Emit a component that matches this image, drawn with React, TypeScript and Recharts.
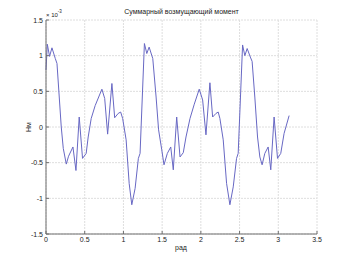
import { CartesianGrid, Line, LineChart, XAxis, YAxis } from 'recharts';

// angle, rad
const angleRad = [
  0.0, 0.017, 0.046, 0.077, 0.12, 0.142, 0.197, 0.223, 0.262, 0.291, 0.348, 0.387, 0.429, 0.472, 0.519, 0.545,
  0.584, 0.635, 0.722, 0.758, 0.796, 0.851, 0.887, 0.932, 0.964, 0.99, 1.035, 1.074, 1.108, 1.151, 1.193, 1.215,
  1.271, 1.302, 1.332, 1.379, 1.422, 1.454, 1.495, 1.524, 1.567, 1.611, 1.644, 1.688, 1.731, 1.773, 1.808, 1.86,
  1.915, 1.979, 2.023, 2.066, 2.117, 2.152, 2.195, 2.224, 2.246, 2.289, 2.332, 2.375, 2.418, 2.461, 2.482, 2.539,
  2.568, 2.598, 2.639, 2.662, 2.697, 2.732, 2.762, 2.791, 2.826, 2.869, 2.903, 2.946, 2.99, 3.032, 3.075, 3.14,
];

// torque, x 10^-3 Nm
const torque = [
  0.8, 1.16, 0.99, 1.11, 0.96, 0.89, 0.0, -0.3, -0.52, -0.41, -0.28, -0.61, 0.14, -0.44, -0.37, -0.14,
  0.12, 0.3, 0.53, 0.4, -0.1, 0.61, 0.13, 0.19, 0.21, 0.12, -0.18, -0.79, -1.09, -0.86, -0.44, -0.37,
  1.17, 1.03, 1.12, 0.96, 0.42, -0.04, -0.32, -0.53, -0.37, -0.28, -0.6, 0.14, -0.42, -0.36, -0.14, 0.12,
  0.32, 0.53, 0.38, -0.11, 0.62, 0.14, 0.19, 0.21, 0.12, -0.18, -0.79, -1.09, -0.84, -0.44, -0.37, 1.15,
  1.0, 1.1, 0.98, 0.92, 0.42, -0.14, -0.42, -0.53, -0.37, -0.28, -0.6, 0.14, -0.44, -0.37, -0.09, 0.16,
];

const xTicks = [0, 0.5, 1, 1.5, 2, 2.5, 3, 3.5];
const yTicks = [-1.5, -1, -0.5, 0, 0.5, 1, 1.5];

const data = angleRad.map((a, i) => ({ a, m: torque[i] }));

const AXIS = '#6e6e6e';
const LABEL = '#222';
const FONT = '"Liberation Sans", Arial, sans-serif';

const fmt = (v: number) => String(v);

function BottomTick({ x, y, payload }: any) {
  return (
    <g>
      <line x1={x} x2={x} y1={y} y2={y - 3} stroke={AXIS} />
      <text x={x} y={y + 8} textAnchor="middle" fontSize={7} fill={LABEL} fontFamily={FONT}>
        {fmt(payload.value)}
      </text>
    </g>
  );
}

function LeftTick({ x, y, payload }: any) {
  return (
    <g>
      <line x1={x} x2={x + 3} y1={y} y2={y} stroke={AXIS} />
      <text x={x - 3} y={y + 2.5} textAnchor="end" fontSize={7} fill={LABEL} fontFamily={FONT}>
        {fmt(payload.value)}
      </text>
    </g>
  );
}

function TopTick({ x, y }: any) {
  return <line x1={x} x2={x} y1={y} y2={y + 3} stroke={AXIS} />;
}

function RightTick({ x, y }: any) {
  return <line x1={x} x2={x - 3} y1={y} y2={y} stroke={AXIS} />;
}

const text = (style: React.CSSProperties) => ({
  position: 'absolute' as const,
  fontFamily: FONT,
  color: LABEL,
  lineHeight: 1,
  whiteSpace: 'nowrap' as const,
  ...style,
});

export default function App() {
  return (
    <div style={{ position: 'absolute', left: 0, top: 0, width: 351, height: 263, background: '#fff' }}>
      <LineChart width={351} height={263} data={data} margin={{ top: 20, right: 34, left: 0, bottom: 0 }}>
        <CartesianGrid stroke="#dedede" strokeDasharray="2 1" />
        <XAxis
          dataKey="a"
          type="number"
          domain={[0, 3.5]}
          ticks={xTicks}
          height={29}
          stroke={AXIS}
          tickSize={0}
          tickMargin={0}
          tick={<BottomTick />}
          interval={0}
        />
        <XAxis
          xAxisId="top"
          orientation="top"
          dataKey="a"
          type="number"
          domain={[0, 3.5]}
          ticks={xTicks}
          height={0}
          stroke={AXIS}
          tickSize={0}
          tickMargin={0}
          tick={<TopTick />}
          interval={0}
        />
        <YAxis
          type="number"
          domain={[-1.5, 1.5]}
          ticks={yTicks}
          width={46}
          stroke={AXIS}
          tickSize={0}
          tickMargin={0}
          tick={<LeftTick />}
          interval={0}
        />
        <YAxis
          yAxisId="right"
          orientation="right"
          type="number"
          domain={[-1.5, 1.5]}
          ticks={yTicks}
          width={0}
          stroke={AXIS}
          tickSize={0}
          tickMargin={0}
          tick={<RightTick />}
          interval={0}
        />
        <Line
          type="linear"
          dataKey="m"
          stroke="#6868c4"
          strokeWidth={1}
          dot={false}
          isAnimationActive={false}
        />
      </LineChart>
      <div style={text({ left: 181.5, top: 8, fontSize: 7, transform: 'translateX(-50%)' })}>
        Суммарный возмущающий момент
      </div>
      <div style={text({ left: 46, top: 12, fontSize: 6 })}>
        × 10<sup style={{ fontSize: 4.5, verticalAlign: 'top', position: 'relative', top: -2 }}>-3</sup>
      </div>
      <div style={text({ left: 181, top: 244, fontSize: 7, transform: 'translateX(-50%)' })}>рад</div>
      <div
        style={text({
          left: 28,
          top: 127,
          fontSize: 7,
          transform: 'translate(-50%, -50%) rotate(-90deg)',
        })}
      >
        Нм
      </div>
    </div>
  );
}
